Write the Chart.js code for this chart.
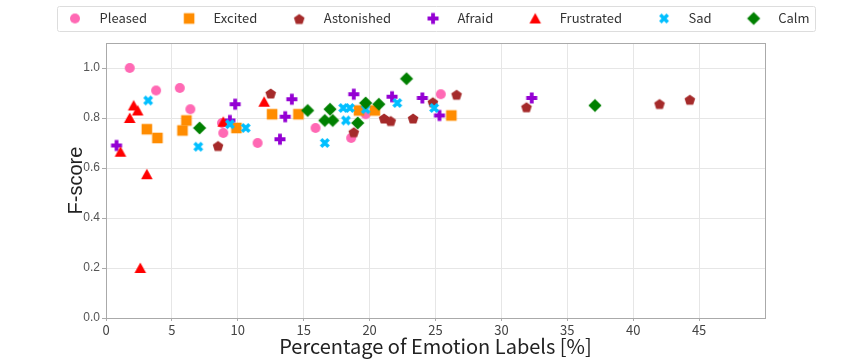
<!DOCTYPE html>
<html><head><meta charset="utf-8">
<script src="https://cdn.jsdelivr.net/npm/chart.js@4/dist/chart.umd.min.js"></script>
<style>html,body{margin:0;padding:0;background:#fff;}#wrap{width:850px;height:364px;}</style>
</head><body><div id="wrap"><canvas id="c" width="850" height="364"></canvas></div>
<script>
// ---- data (x = percentage of emotion labels, y = F-score) ----
const seriesNames = ['Pleased','Excited','Astonished','Afraid','Frustrated','Sad','Calm'];
const pleasedX = [1.8,3.8,5.6,6.4,8.8,8.9,11.5,15.9,18.6,19.7,25.4];
const pleasedY = [1.00,0.91,0.92,0.835,0.78,0.74,0.70,0.76,0.72,0.815,0.895];
const excitedX = [3.1,3.9,5.8,6.1,9.9,12.6,14.6,19.2,20.4,26.2];
const excitedY = [0.755,0.72,0.75,0.79,0.76,0.815,0.815,0.83,0.83,0.81];
const astonishedX = [8.5,12.5,18.8,21.1,21.6,23.3,24.8,26.6,31.9,42.0,44.3];
const astonishedY = [0.69,0.90,0.745,0.80,0.79,0.80,0.865,0.895,0.845,0.858,0.875];
const afraidX = [0.8,9.4,9.8,13.2,13.6,14.1,18.8,21.7,24.0,25.3,32.3];
const afraidY = [0.69,0.79,0.855,0.715,0.805,0.875,0.895,0.885,0.88,0.81,0.88];
const frustratedX = [1.1,1.8,2.1,2.4,2.6,3.1,8.9,12.0];
const frustratedY = [0.665,0.80,0.85,0.83,0.20,0.575,0.785,0.865];
const sadX = [3.2,7.0,9.4,10.6,16.6,18.0,18.2,18.5,19.7,22.1,24.9];
const sadY = [0.87,0.685,0.775,0.76,0.70,0.84,0.79,0.84,0.835,0.86,0.84];
const calmX = [7.1,15.3,16.6,17.0,17.2,19.1,19.7,20.7,22.8,37.1];
const calmY = [0.76,0.83,0.79,0.835,0.79,0.78,0.86,0.855,0.957,0.85];
const xTickValues = [0,5,10,15,20,25,30,35,40,45];
const yTickValues = [0,0.2,0.4,0.6,0.8,1.0];

const seriesX = [pleasedX,excitedX,astonishedX,afraidX,frustratedX,sadX,calmX];
const seriesY = [pleasedY,excitedY,astonishedY,afraidY,frustratedY,sadY,calmY];
const seriesColors = ['#FF69B4','#FF8C00','#A52A2A','#9400D3','#FF0000','#00BFFF','#008000'];
const seriesShapes = ['circle','square','pentagon','plus','triangle','x','diamond'];

function drawShape(ctx, shape, cx, cy, color) {
  ctx.fillStyle = color; ctx.strokeStyle = color;
  ctx.beginPath();
  if (shape === 'circle') { ctx.arc(cx, cy, 5, 0, Math.PI*2); ctx.fill(); }
  else if (shape === 'square') { ctx.rect(cx-5.3, cy-5.3, 10.6, 10.6); ctx.fill(); }
  else if (shape === 'pentagon') {
    for (let k=0;k<5;k++){ const a=-Math.PI/2+k*2*Math.PI/5; const px=cx+5.6*Math.cos(a), py=cy+1+5.6*Math.sin(a); k?ctx.lineTo(px,py):ctx.moveTo(px,py);} ctx.closePath(); ctx.fill(); }
  else if (shape === 'plus') {
    const s=5.5,t=1.9;
    const p=[[-t,-s],[t,-s],[t,-t],[s,-t],[s,t],[t,t],[t,s],[-t,s],[-t,t],[-s,t],[-s,-t],[-t,-t]];
    p.forEach((q,k)=>k?ctx.lineTo(cx+q[0],cy+q[1]):ctx.moveTo(cx+q[0],cy+q[1])); ctx.closePath(); ctx.fill(); }
  else if (shape === 'triangle') { ctx.moveTo(cx,cy-5.5); ctx.lineTo(cx+5.8,cy+5); ctx.lineTo(cx-5.8,cy+5); ctx.closePath(); ctx.fill(); }
  else if (shape === 'x') { ctx.lineWidth=3.6; ctx.lineCap='butt'; ctx.moveTo(cx-3.7,cy-3.7); ctx.lineTo(cx+3.7,cy+3.7); ctx.moveTo(cx+3.7,cy-3.7); ctx.lineTo(cx-3.7,cy+3.7); ctx.stroke(); }
  else if (shape === 'diamond') { ctx.moveTo(cx,cy-6.6); ctx.lineTo(cx+6.6,cy); ctx.lineTo(cx,cy+6.6); ctx.lineTo(cx-6.6,cy); ctx.closePath(); ctx.fill(); }
}
function makeMarker(shape, color, w, h, cx) {
  const c = document.createElement('canvas'); c.width = w; c.height = h;
  drawShape(c.getContext('2d'), shape, cx, h/2, color); return c;
}
const pointMarkers = seriesShapes.map((s,i)=>makeMarker(s, seriesColors[i], 16, 16, 8));
const legendMarkers = seriesShapes.map((s,i)=>makeMarker(s, seriesColors[i], 64, 16, 39));

const datasets = seriesNames.map((name,i)=>({
  label: name,
  data: seriesX[i].map((x,j)=>({x:x, y:seriesY[i][j]})),
  pointStyle: pointMarkers[i],
  pointRadius: 6,
  backgroundColor: seriesColors[i],
  borderColor: seriesColors[i],
  order: seriesNames.length - i
}));

const frameBox = {
  id:'frameBox',
  beforeLayout(chart){
    const lg = chart.legend;
    if (lg && !lg._extraFit) {
      const f = lg.fit.bind(lg);
      lg.fit = function(){ f(); this.height += 8; };
      lg._extraFit = true;
    }
  },
  beforeDatasetsDraw(chart){
    const a = chart.chartArea, ctx = chart.ctx;
    ctx.save(); ctx.strokeStyle='#aaaaaa'; ctx.lineWidth=1;
    ctx.strokeRect(Math.round(a.left)+0.5, Math.round(a.top)+0.5, Math.round(a.right-a.left), Math.round(a.bottom-a.top));
    ctx.restore();
  },
  afterDraw(chart){
    const lg = chart.legend; if (!lg || !lg.legendHitBoxes.length) return;
    const hb = lg.legendHitBoxes, first = hb[0], last = hb[hb.length-1];
    const cy = first.top + first.height/2;
    const l = first.left + 14, r = last.left + last.width + 6;
    const ctx = chart.ctx; ctx.save(); ctx.strokeStyle='#dddddd'; ctx.lineWidth=1;
    ctx.beginPath(); ctx.roundRect(Math.round(l)+0.5, Math.round(cy-12.5)+0.5, Math.round(r-l), 25, 2); ctx.stroke(); ctx.restore();
  }
};

new Chart(document.getElementById('c'), {
  type: 'scatter',
  data: { datasets },
  plugins: [frameBox],
  options: {
    responsive:false, animation:false,
    layout:{padding:{left:33,right:0,top:2,bottom:0}},
    plugins:{
      legend:{ position:'top', align:'start',
        labels:{ usePointStyle:true, pointStyleWidth:50, padding:10, color:'#333',
          font:{family:"'Noto Sans CJK JP','Liberation Sans',sans-serif", size:13},
          generateLabels(chart){ const items = Chart.defaults.plugins.legend.labels.generateLabels(chart);
            items.forEach(it=>{ it.pointStyle = legendMarkers[it.datasetIndex]; }); return items; },
          sort:(a,b)=>a.datasetIndex-b.datasetIndex } },
      tooltip:{enabled:false}
    },
    scales:{
      x:{ type:'linear', min:0, max:50,
        afterBuildTicks(s){ s.ticks = xTickValues.map(v=>({value:v})); },
        afterFit(s){ s.height = 46; },
        grid:{color:'#e6e6e6', tickColor:'#aaaaaa', tickLength:3},
        border:{display:true, color:'#aaaaaa'},
        ticks:{ color:'#444', padding:1, maxRotation:0, font:{family:"'Noto Sans CJK JP','Liberation Sans',sans-serif", size:13}, callback:v=>String(v) },
        title:{ display:true, text:'Percentage of Emotion Labels [%]', color:'#222',
          font:{family:"'Noto Sans CJK JP','Liberation Sans',sans-serif", size:20}, padding:{top:0,bottom:6} } },
      y:{ type:'linear', min:0, max:1.1,
        afterBuildTicks(s){ s.ticks = yTickValues.map(v=>({value:v})); },
        afterFit(s){ s.width = 73; },
        grid:{color:'#e6e6e6', tickColor:'#aaaaaa', tickLength:4},
        border:{display:true, color:'#aaaaaa'},
        ticks:{ color:'#555', padding:2, font:{family:"'Liberation Sans',sans-serif", size:12}, callback:v=>v.toFixed(1) },
        title:{ display:true, text:'F-score', color:'#222',
          font:{family:"'Liberation Sans',sans-serif", size:20}, padding:{top:31,bottom:0} } },
      y2:{ position:'right', display:true, grid:{display:false}, border:{display:false}, ticks:{display:false},
        afterFit(s){ s.width = 85; } }
    }
  }
});
</script></body></html>
